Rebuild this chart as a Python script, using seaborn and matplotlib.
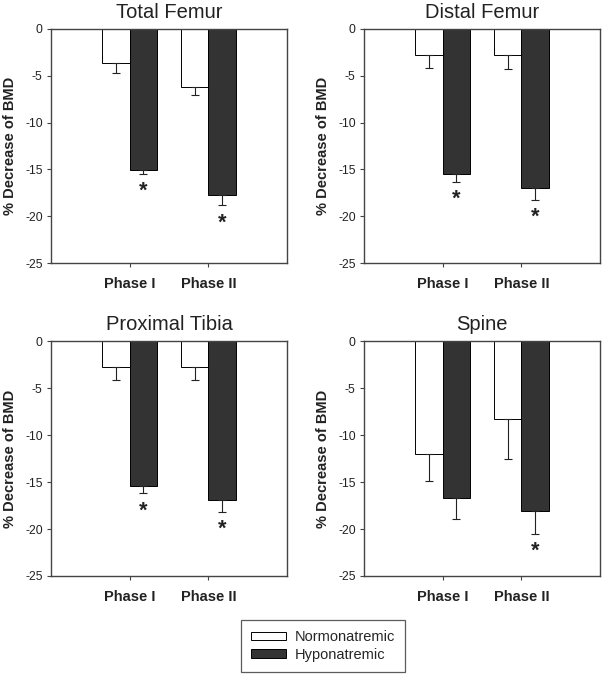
import numpy as np
import pandas as pd
import matplotlib
matplotlib.use("Agg")
import matplotlib.pyplot as plt
import seaborn as sns
from matplotlib.patches import Patch
from matplotlib.container import BarContainer

# ---------------- data ----------------
panels = ["Total Femur", "Distal Femur", "Proximal Tibia", "Spine"]
phases = ["Phase I", "Phase II"]
groups = ["Normonatremic", "Hyponatremic"]

# mean % decrease (per panel: [Normo PI, Normo PII], [Hypo PI, Hypo PII])
normo_mean = [[-3.6, -6.15], [-2.8, -2.8], [-2.75, -2.75], [-12.0, -8.3]]
hypo_mean = [[-15.05, -17.7], [-15.5, -17.0], [-15.4, -16.9], [-16.7, -18.1]]
# error (SE) magnitudes
normo_err = [[1.15, 0.9], [1.4, 1.5], [1.45, 1.45], [2.9, 4.2]]
hypo_err = [[0.45, 1.15], [0.8, 1.25], [0.8, 1.25], [2.2, 2.4]]
# significance markers on hyponatremic bars
hypo_sig = [[True, True], [True, True], [True, True], [False, True]]

yticks = [0, -5, -10, -15, -20, -25]
ylabel = "% Decrease of BMD"

# ---------------- style ----------------
sns.set_theme(style="white")
plt.rcParams["font.family"] = ["Liberation Sans", "DejaVu Sans"]
spine_col = "#444444"
hypo_col = "#333333"
palette = {"Normonatremic": "white", "Hyponatremic": hypo_col}

fig = plt.figure(figsize=(6.03, 6.75), dpi=100)
W, H = 603, 675
boxes = [(51, 29, 236, 234), (364, 29, 236, 234),
         (51, 341, 236, 235), (364, 341, 236, 235)]

for i, name in enumerate(panels):
    x0, y0, w, h = boxes[i]
    ax = fig.add_axes([x0 / W, 1 - (y0 + h) / H, w / W, h / H])
    rows = []
    for j, ph in enumerate(phases):
        rows.append({"phase": ph, "group": groups[0], "value": normo_mean[i][j]})
        rows.append({"phase": ph, "group": groups[1], "value": hypo_mean[i][j]})
    df = pd.DataFrame(rows)
    sns.barplot(data=df, x="phase", y="value", hue="group", order=phases,
                hue_order=groups, palette=palette, edgecolor="black",
                linewidth=0.7, width=0.7, errorbar=None, legend=False,
                saturation=1, ax=ax)
    bar_conts = [c for c in ax.containers if isinstance(c, BarContainer)]
    errs = [normo_err[i], hypo_err[i]]
    means = [normo_mean[i], hypo_mean[i]]
    for g, cont in enumerate(bar_conts):
        for j, bar in enumerate(cont.patches):
            xc = bar.get_x() + bar.get_width() / 2
            ax.errorbar(xc, means[g][j], yerr=[[errs[g][j]], [0]],
                        fmt="none", ecolor="#222222", elinewidth=0.8,
                        capsize=2.8, capthick=0.8, zorder=1)
            if g == 1 and hypo_sig[i][j]:
                ax.annotate("*", (xc, means[g][j] - errs[g][j]),
                            xytext=(0, -5), textcoords="offset points",
                            ha="center", va="top", fontsize=15.5,
                            fontweight="bold", color="#222222")
    ax.set_xlim(-1, 2)
    ax.set_ylim(-25, 0)
    ax.set_yticks(yticks)
    ax.set_yticklabels([str(t) for t in yticks], fontsize=8.8, color="#222222")
    ax.set_xticks([0, 1])
    ax.set_xticklabels(phases, fontsize=10.5, fontweight="bold", color="#222222")
    ax.tick_params(axis="both", which="major", length=3, width=0.8,
                   color=spine_col, bottom=True, left=True, pad=3)
    ax.tick_params(axis="x", pad=7)
    ax.set_xlabel("")
    ax.set_ylabel(ylabel, fontsize=10.5, fontweight="bold", color="#222222",
                  labelpad=6)
    ax.set_title(name, fontsize=14.5, color="#222222", pad=8)
    for s in ax.spines.values():
        s.set_visible(True)
        s.set_color(spine_col)
        s.set_linewidth(1.0)

handles = [Patch(facecolor="white", edgecolor="black", linewidth=0.7),
           Patch(facecolor=hypo_col, edgecolor="black", linewidth=0.7)]
leg = fig.legend(handles, groups, loc="center", bbox_to_anchor=(323 / W, 1 - 646 / H),
                 fontsize=10.5, frameon=True, fancybox=False, edgecolor="#333333",
                 handlelength=2.4, handleheight=0.55, handletextpad=0.6,
                 labelspacing=0.25, borderpad=0.7)
leg.get_frame().set_linewidth(0.9)

fig.savefig("out.png", dpi=100)
